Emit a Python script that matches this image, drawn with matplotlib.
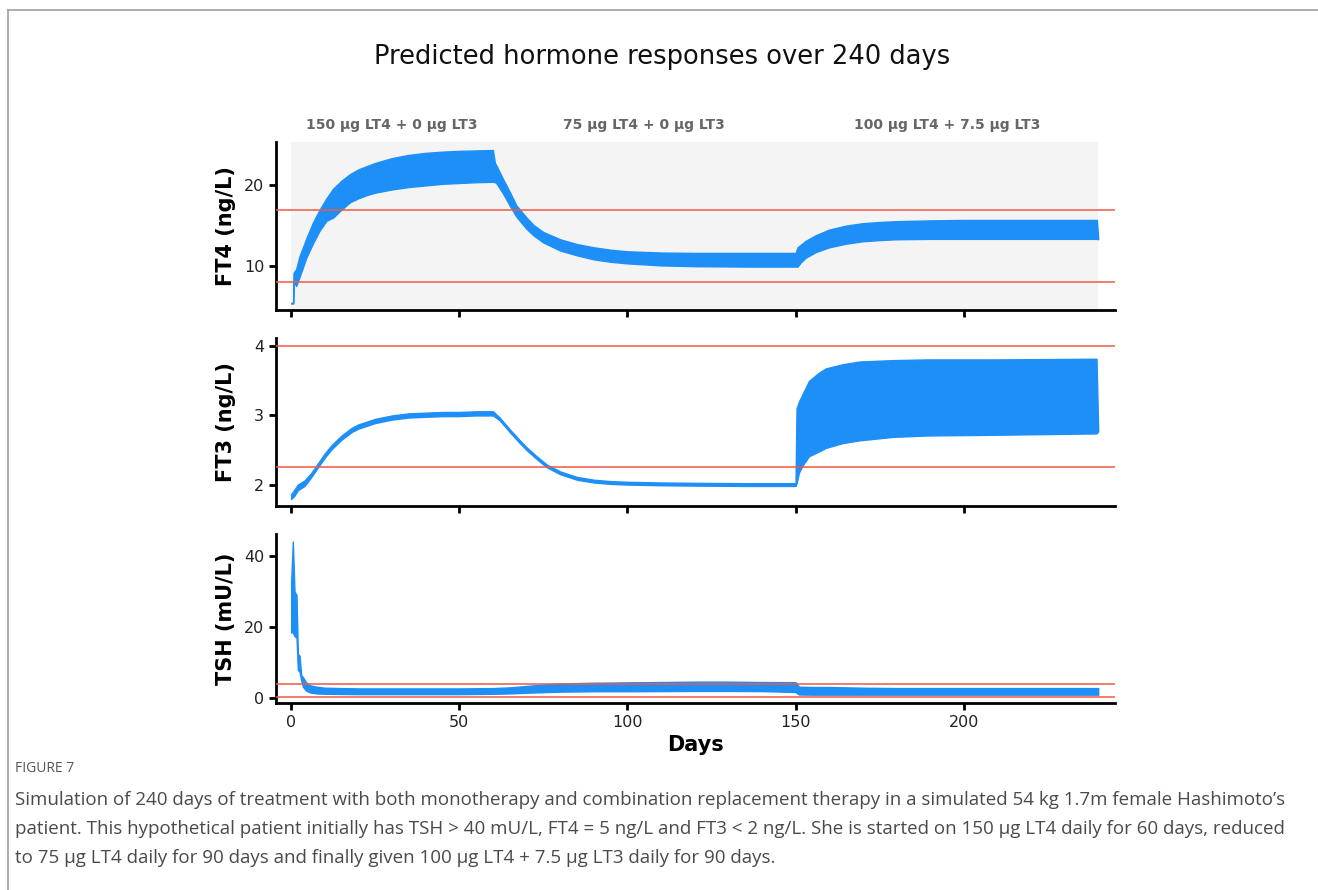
import matplotlib
matplotlib.use("Agg")
import matplotlib.pyplot as plt
from matplotlib.lines import Line2D

# values (upper / lower envelope of the daily oscillation)
ft4_days = [0, 0.6, 0.7, 1.5, 2.5, 4.5, 6.5, 8.5, 10.5, 12.5, 15, 17.5, 20, 22.5, 25, 30, 35, 40, 45, 50,
            55, 60, 60.6, 61, 63, 65, 67, 70, 72, 75, 80, 85, 90, 95, 100, 110, 120, 135, 150, 150.6,
            151.5, 153, 156, 160, 165, 170, 175, 180, 190, 200, 220, 239.6, 240]
ft4_upper = [5.4, 5.4, 9.1, 9.6, 11.2, 13.4, 15.4, 17.0, 18.4, 19.6, 20.6, 21.4, 22.0, 22.4, 22.8, 23.4, 23.8, 24.05, 24.2, 24.3,
             24.35, 24.4, 22.8, 22.5, 20.8, 19.2, 17.5, 16.0, 15.1, 14.2, 13.3, 12.7, 12.3, 12.0, 11.8, 11.65, 11.6, 11.6, 11.6, 12.3,
             12.6, 13.1, 13.8, 14.5, 15.0, 15.3, 15.45, 15.55, 15.65, 15.7, 15.7, 15.7, 13.5]
ft4_lower = [5.3, 5.3, 8.0, 7.5, 8.6, 11.0, 12.8, 14.4, 15.6, 16.0, 17.0, 17.9, 18.4, 18.8, 19.1, 19.5, 19.8, 20.0, 20.2, 20.3,
             20.4, 20.45, 20.4, 20.3, 19.0, 17.5, 16.1, 14.6, 13.8, 12.9, 11.9, 11.3, 10.8, 10.5, 10.3, 10.05, 9.95, 9.9, 9.9, 9.9,
             10.4, 11.0, 11.7, 12.3, 12.75, 13.05, 13.2, 13.3, 13.35, 13.35, 13.35, 13.35, 13.3]

ft3_days = [0, 1, 2, 4, 6, 8, 10, 12, 15, 18, 20, 25, 30, 35, 40, 45, 50, 55, 60, 62,
            65, 68, 70, 73, 76, 80, 85, 90, 95, 100, 110, 120, 135, 150, 150.3, 151, 152, 154, 157, 159,
            164, 169, 179, 189, 209, 239.5, 240]
ft3_upper = [1.86, 1.93, 2.0, 2.06, 2.17, 2.31, 2.45, 2.57, 2.71, 2.82, 2.87, 2.95, 3.0, 3.03, 3.04, 3.05, 3.05, 3.06, 3.06, 2.97,
             2.80, 2.64, 2.54, 2.41, 2.29, 2.19, 2.11, 2.07, 2.05, 2.04, 2.03, 2.025, 2.02, 2.02, 3.10, 3.20, 3.30, 3.50, 3.62, 3.68,
             3.74, 3.78, 3.80, 3.81, 3.81, 3.82, 2.80]
ft3_lower = [1.79, 1.84, 1.92, 1.98, 2.11, 2.25, 2.39, 2.51, 2.65, 2.76, 2.81, 2.89, 2.94, 2.97, 2.98, 2.99, 2.99, 3.0, 3.0, 2.93,
             2.76, 2.60, 2.50, 2.37, 2.25, 2.15, 2.07, 2.03, 2.01, 2.0, 1.99, 1.985, 1.98, 1.98, 2.02, 2.17, 2.27, 2.41, 2.48, 2.53,
             2.60, 2.64, 2.69, 2.71, 2.72, 2.74, 2.77]

tsh_days = [0, 0.5, 1.0, 1.6, 2.0, 2.5, 3.0, 3.5, 4.3, 5.5, 7.5, 10, 20, 30, 40, 50, 60, 65, 70, 75,
            80, 90, 100, 110, 120, 130, 140, 150, 151, 155, 160, 170, 180, 200, 220, 240]
tsh_upper = [32.5, 44.0, 30.0, 29.0, 12.5, 12.0, 6.5, 6.0, 4.7, 3.7, 3.3, 3.0, 2.8, 2.8, 2.8, 2.8, 2.9, 3.1, 3.5, 3.9,
             4.2, 4.4, 4.5, 4.6, 4.7, 4.7, 4.6, 4.55, 3.3, 3.2, 3.2, 3.0, 2.9, 2.9, 2.9, 2.9]
tsh_lower = [18.5, 18.5, 17.5, 17.0, 8.0, 7.5, 5.0, 3.3, 2.3, 1.7, 1.4, 1.3, 1.2, 1.2, 1.2, 1.2, 1.3, 1.4, 1.6, 1.75,
             1.9, 2.0, 2.0, 2.05, 2.1, 2.1, 2.05, 1.8, 1.1, 1.05, 1.05, 1.05, 1.05, 1.05, 1.05, 1.05]

ft4_ref = [8, 17]
ft3_ref = [2.25, 4.0]
tsh_ref = [0.4, 4.0]

phase_labels = ["150 µg LT4 + 0 µg LT3", "75 µg LT4 + 0 µg LT3", "100 µg LT4 + 7.5 µg LT3"]
phase_mid = [30, 105, 195]

panels = [
    ("FT4 (ng/L)", ft4_days, ft4_upper, ft4_lower, ft4_ref, (4.5, 25.4), [10, 20]),
    ("FT3 (ng/L)", ft3_days, ft3_upper, ft3_lower, ft3_ref, (1.69, 4.12), [2, 3, 4]),
    ("TSH (mU/L)", tsh_days, tsh_upper, tsh_lower, tsh_ref, (-1.2, 46.1), [0, 20, 40]),
]

blue = "#1e8ff7"
red = "#ee5a44"

W, H = 1318, 890
fig = plt.figure(figsize=(W / 100, H / 100), dpi=100)

# axes boxes in pixels: (top, bottom)
boxes = [(142, 310), (338, 506), (534, 702.7)]
left, right = 276, 1115

axes = []
for (top, bot), (label, d, up, lo, ref, ylim, yt) in zip(boxes, panels):
    ax = fig.add_axes([left / W, 1 - bot / H, (right - left) / W, (bot - top) / H])
    axes.append(ax)
    ax.fill_between(d, lo, up, color=blue, lw=1.0, edgecolor=blue, zorder=2)
    for r in ref:
        ax.axhline(r, color=red, lw=1.3, alpha=0.85, zorder=3)
    ax.set_xlim(-4.5, 245)
    ax.set_ylim(*ylim)
    ax.set_yticks(yt)
    ax.set_xticks([0, 50, 100, 150, 200])
    for s in ["top", "right"]:
        ax.spines[s].set_visible(False)
    for s in ["left", "bottom"]:
        ax.spines[s].set_linewidth(2.0)
    ax.tick_params(width=2, length=5, labelsize=11.5, labelcolor="#222222")
    ax.set_ylabel(label, fontsize=15, fontweight="bold")
    ax.yaxis.set_label_coords(-0.048, 0.5)

axes[0].axvspan(0, 240, color="#f4f4f4", zorder=0, lw=0)
axes[0].tick_params(labelbottom=False)
axes[1].tick_params(labelbottom=False)
axes[2].set_xlabel("Days", fontsize=15, fontweight="bold")

for x, t in zip(phase_mid, phase_labels):
    axes[0].text(x, 1.10, t, transform=axes[0].get_xaxis_transform(), ha="center", va="center",
                 fontsize=10, fontweight="bold", color="#666666")

fig.text(662 / W, 1 - 57 / H, "Predicted hormone responses over 240 days", ha="center", va="center",
         fontsize=18.5, color="#111111")

# frame around the figure panel
fig.add_artist(Line2D([7.5 / W, 7.5 / W], [0, 1 - 9.5 / H], color="#a0a0a0", lw=1.2))
fig.add_artist(Line2D([7.5 / W, 1], [1 - 9.5 / H, 1 - 9.5 / H], color="#a0a0a0", lw=1.2))

# caption
fig.text(15 / W, 1 - 769 / H, "FIGURE 7", ha="left", va="center", fontsize=10,
         color="#555555", family="Open Sans")
caption = [
    "Simulation of 240 days of treatment with both monotherapy and combination replacement therapy in a simulated 54 kg 1.7m female Hashimoto\u2019s",
    "patient. This hypothetical patient initially has TSH > 40 mU/L, FT4 = 5 ng/L and FT3 < 2 ng/L. She is started on 150 µg LT4 daily for 60 days, reduced",
    "to 75 µg LT4 daily for 90 days and finally given 100 µg LT4 + 7.5 µg LT3 daily for 90 days.",
]
for i, line in enumerate(caption):
    fig.text(15 / W, 1 - (800 + 29 * i) / H, line, ha="left", va="center", fontsize=13.5,
             color="#4a4a4a", family="Open Sans")

fig.savefig("out.png", dpi=100)
